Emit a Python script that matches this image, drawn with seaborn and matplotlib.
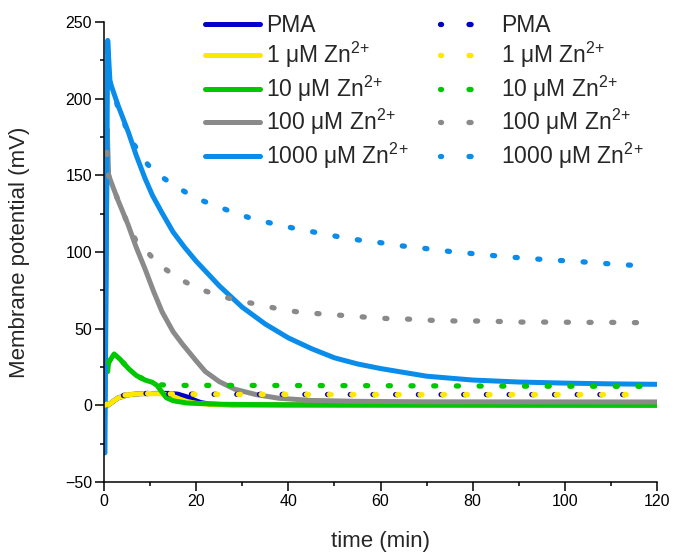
import matplotlib
matplotlib.use('Agg')
import matplotlib.pyplot as plt
from matplotlib.lines import Line2D
from matplotlib.ticker import MultipleLocator
import seaborn as sns

sns.set_theme(style='ticks')
plt.rcParams['font.family'] = ['Liberation Sans', 'DejaVu Sans']
plt.rcParams['mathtext.fontset'] = 'custom'
plt.rcParams['mathtext.rm'] = 'Liberation Sans'
plt.rcParams['mathtext.it'] = 'Liberation Sans:italic'

# ── 데이터
ZN = 'μM Zn$^{2\\!+}$'
LABELS = ['PMA', '1 ' + ZN, '10 ' + ZN, '100 ' + ZN, '1000 ' + ZN]
COLORS = ['#0000C8', '#FFE800', '#00C800', '#8A8A8A', '#0A8CEB']

# 실선 (모델)
pma_t = [0.2, 0.6, 1.5, 3, 4.5, 5.6, 8, 12, 14, 16, 18, 19.5, 21, 23, 28, 120]
pma_v = [0, -0.5, 1.5, 4.8, 6.2, 7, 7.6, 7.8, 7.8, 7.3, 5.5, 3.5, 1.8, 0.8, 0.3, 0]
zn1_t = [0.2, 0.6, 1.5, 3, 4.5, 5.6, 8, 12, 13.5, 15, 16.5, 18, 20, 24, 30, 120]
zn1_v = [0, -0.5, 1.5, 4.8, 6.2, 7, 7.6, 7.6, 7, 5.8, 4, 2.5, 1.3, 0.5, 0.2, 0]
zn10_t = [0.8, 1.0, 2.2, 3.5, 5.3, 7, 8.9, 10.5, 11.5, 12.5, 13.5, 15, 18, 25, 40, 120]
zn10_v = [22, 28, 33.5, 30, 24, 19.5, 16.5, 15, 13, 9, 5, 3, 1.5, 0.7, 0.3, 0]
zn100_t = [0.2, 0.7, 1.0, 3, 5.2, 7, 8.9, 10.8, 12.6, 15, 17, 20, 22, 25, 28.4, 33, 38, 45, 55, 70, 120]
zn100_v = [0, 180, 150, 134, 118, 103, 89, 74, 61, 48, 40, 29, 22, 15.5, 10.5, 7, 4.6, 3.2, 2.6, 2.3, 2.2]
zn1000_t = [0.2, 0.8, 1.3, 3, 5.3, 7, 8.9, 10.5, 12.5, 15, 17.5, 20, 25, 30, 35, 40, 45, 50,
            55, 60, 70, 80, 90, 100, 110, 120]
zn1000_v = [-31, 238, 211, 196, 178, 163, 148, 137, 126, 113, 103, 94, 78, 64, 53, 44, 37, 31,
            27, 24, 19, 16.5, 15.2, 14.5, 14, 13.7]

# 점선 (측정)
pma_dt = [0.2, 1, 2, 3, 4, 5.5, 8, 12, 20, 60, 114]
pma_dv = [0, 1.5, 3.5, 5, 6.3, 7.2, 7.8, 7.6, 7.2, 7, 7]
zn1_dt = [0.2, 1, 2, 3, 4, 5.5, 8, 12, 20, 60, 114]
zn1_dv = [0, 1.5, 3.5, 5, 6.3, 7.2, 7.8, 7.6, 7.2, 7, 7]
zn10_dt = [1, 2.2, 3.5, 5.3, 7, 8.9, 10.5, 11.5, 15, 30, 60, 90, 118]
zn10_dv = [28, 33.5, 30, 24, 19.5, 16.5, 15, 13.5, 13, 13, 12.8, 12.5, 12.4]
zn100_dt = [0.6, 1, 3, 5.2, 7, 8.2, 11.8, 16.1, 20.1, 24.8, 28.8, 33.4, 38, 42.7, 46.9, 52,
            57.3, 62, 65.5, 71.4, 76.6, 81.8, 84.5, 90.6, 97.2, 103.7, 110.2, 116.7]
zn100_dv = [165, 150, 134, 118, 107, 104, 92, 83, 76.5, 71.7, 68.5, 65.8, 62.8, 60.6, 59.7, 58.6,
            57.4, 56.5, 56.3, 55.4, 55, 55, 54.8, 54.3, 54.3, 54.1, 54.1, 53.9]
zn1000_dt = [1.3, 3.5, 6.3, 9.5, 12.5, 16, 20, 24.4, 28.8, 33, 37.5, 42.4, 46.7, 51.5, 55.8, 61,
             64.6, 69.4, 74.9, 79.8, 83.2, 89, 94, 99.3, 102, 106.8, 112, 118.7]
zn1000_dv = [211, 190, 171, 157, 149, 142, 135, 130, 125, 121, 118, 114.7, 112.4, 109.6, 107.6,
             105.7, 104, 102.4, 100.4, 99, 98, 96.5, 95.4, 94.4, 94, 92.9, 91.8, 90.7]

solid = [(pma_t, pma_v), (zn1_t, zn1_v), (zn10_t, zn10_v), (zn100_t, zn100_v), (zn1000_t, zn1000_v)]
dotted = [(pma_dt, pma_dv), (zn1_dt, zn1_dv), (zn10_dt, zn10_dv), (zn100_dt, zn100_dv),
          (zn1000_dt, zn1000_dv)]

LW = 3.6
LW_DOT = 3.8
DOT = (0, (0.4, 3.9))

fig = plt.figure(figsize=(6.76, 5.53), dpi=100)
ax = fig.add_axes([104 / 676, 1 - 482 / 553, 553 / 676, 460 / 553])

for (t, v), col in zip(solid, COLORS):
    sns.lineplot(x=t, y=v, color=col, lw=LW, sort=False, estimator=None, ax=ax)
for i, ((t, v), col) in enumerate(zip(dotted, COLORS)):
    ls = (0.3, (0.4, 3.9)) if i == 0 else DOT
    sns.lineplot(x=t, y=v, color=col, lw=LW_DOT, sort=False, estimator=None, ax=ax, linestyle=ls)
for ln in ax.lines:
    ln.set_solid_capstyle('round')
    ln.set_solid_joinstyle('round')
    ln.set_dash_capstyle('round')

ax.set_xlim(0, 120)
ax.set_ylim(-50, 250)
ax.xaxis.set_major_locator(MultipleLocator(20))
ax.xaxis.set_minor_locator(MultipleLocator(10))
ax.yaxis.set_major_locator(MultipleLocator(50))
ax.yaxis.set_minor_locator(MultipleLocator(25))
ax.tick_params(which='major', direction='out', length=6.5, width=1.1, labelsize=11.5,
               color='black', labelcolor='black', pad=2)
ax.tick_params(which='minor', direction='out', length=3.2, width=1.1, color='black')
for s in ['top', 'right']:
    ax.spines[s].set_visible(False)
for s in ['left', 'bottom']:
    ax.spines[s].set_linewidth(1.1)
    ax.spines[s].set_color('black')
ax.set_xlabel('time (min)', fontsize=16, labelpad=16)
ax.set_ylabel('Membrane potential (mV)', fontsize=16, labelpad=25)

# 범례: 실선 5개 + 점선 5개 (2열)
h_solid = [Line2D([], [], color=c, lw=LW, solid_capstyle='round') for c in COLORS]
h_dot = [Line2D([], [], color=c, lw=LW_DOT, linestyle=(0.2, (0.4, 5.2)), dash_capstyle='round')
         for c in COLORS]
fig.legend(h_solid + h_dot, LABELS + LABELS, ncol=2, frameon=False, fontsize=16.5,
           loc='upper left', bbox_to_anchor=(205 / 676, 1 - 14 / 553), borderpad=0,
           borderaxespad=0, handlelength=2.4, handletextpad=0.25, columnspacing=1.4,
           labelspacing=0.14)

plt.savefig('out.png', dpi=100)
plt.close()
